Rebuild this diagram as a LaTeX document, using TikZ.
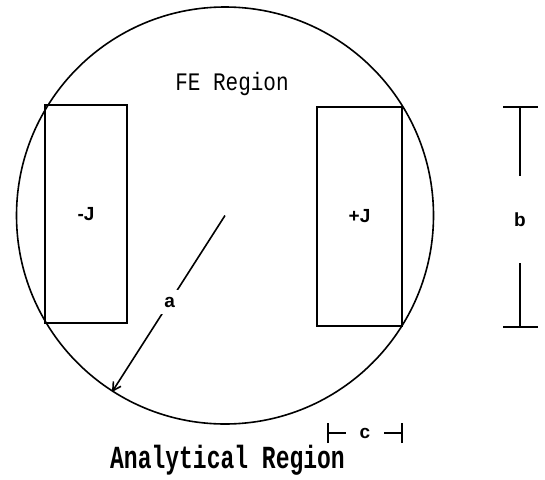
\documentclass[tikz,border=0pt]{standalone}
\usepackage{fontspec}
\usepackage{graphicx}
\setmainfont{Liberation Sans}
\newfontfamily\monof{Liberation Mono}
\usetikzlibrary{arrows.meta}
\begin{document}
\begin{tikzpicture}[x=1pt,y=-1pt,line width=1.6pt,
  lbl/.style={font=\bfseries\fontsize{19}{19}\selectfont, inner sep=0pt},
  box/.style={draw, line width=1.4pt, lbl},
  tick/.style={line width=1.6pt}]
\useasboundingbox (0,0) rectangle (545,479);
\coordinate (O) at (225,215.5);
\draw (O) circle [radius=208.5pt];
\node[box, minimum width=82pt, minimum height=218pt] (lrect) at (86,214) {-J};
\node[box, minimum width=85pt, minimum height=219pt] (rrect) at (359.5,216.5) {+J};
% radius a
\coordinate (tip) at (112,392);
\draw[-{Straight Barb[length=8pt,width=9pt]}] (O) -- (tip)
  node[pos=0.49, fill=white, lbl, inner sep=7pt] (a) {a};
% dimension b
\coordinate (btop) at (520,107);
\coordinate (bbot) at (520,327);
\node[lbl, minimum height=85pt] (b) at (520,219.5) {b};
\draw[tick] (btop) -- (b.north);
\draw[tick] (bbot) -- (b.south);
\draw[tick] ([xshift=-17pt]btop) -- ([xshift=18pt]btop);
\draw[tick] ([xshift=-17pt]bbot) -- ([xshift=18pt]bbot);
% dimension c
\coordinate (cl) at (328,433);
\coordinate (cr) at (402,433);
\node[lbl, minimum width=36pt] (c) at (365,433) {c};
\draw[tick] (cl) -- (c.west);
\draw[tick] (cr) -- (c.east);
\draw[tick] ([yshift=-10pt]cl) -- ([yshift=10pt]cl);
\draw[tick] ([yshift=-10pt]cr) -- ([yshift=10pt]cr);
% region labels
\node[anchor=base, inner sep=0pt, font=\monof\fontsize{21}{21}\selectfont] (fe) at (232,90) {\scalebox{1}[1.2]{FE Region}};
\node[anchor=base, inner sep=0pt, font=\monof\bfseries\fontsize{23}{23}\selectfont] (an) at (227.5,468) {\scalebox{1}[1.4]{Analytical Region}};
\end{tikzpicture}
\end{document}
